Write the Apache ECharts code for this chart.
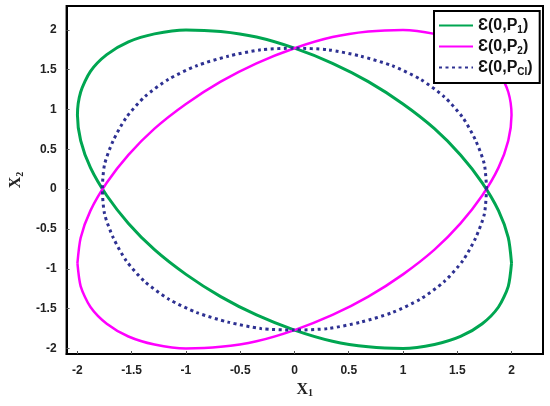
<!DOCTYPE html>
<html>
<head>
<meta charset="utf-8">
<script src="https://cdn.jsdelivr.net/npm/echarts@6/dist/echarts.min.js"></script>
<style>html,body{margin:0;padding:0;background:#fff;}#c{width:550px;height:406px;}</style>
</head>
<body>
<div id="c"></div>
<script>
// Series names (legend)
var seriesNames = ['P1', 'P2', 'PCI'];
var legendSubs = ['1', '2', 'CI'];
// Tick labels
var xTicks = [-2, -1.5, -1, -0.5, 0, 0.5, 1, 1.5, 2];
var yTicks = [-2, -1.5, -1, -0.5, 0, 0.5, 1, 1.5, 2];
// Ellipse E(0,P1) points (x1, x2)
var p1Points = [
  [2.00,-0.93],[1.97,-0.61],[1.88,-0.27],[1.73,0.08],[1.53,0.43],[1.29,0.76],[1.00,1.07],[0.68,1.35],[0.35,1.58],
  [0.00,1.77],[-0.35,1.91],[-0.68,1.98],[-1.00,2.00],[-1.29,1.95],[-1.53,1.85],[-1.73,1.69],[-1.88,1.48],[-1.97,1.22],
  [-2.00,0.93],[-1.97,0.61],[-1.88,0.27],[-1.73,-0.08],[-1.53,-0.43],[-1.29,-0.76],[-1.00,-1.07],[-0.68,-1.35],[-0.35,-1.58],
  [0.00,-1.77],[0.35,-1.91],[0.68,-1.98],[1.00,-2.00],[1.29,-1.95],[1.53,-1.85],[1.73,-1.69],[1.88,-1.48],[1.97,-1.22],
  [2.00,-0.93]
];
// Ellipse E(0,P2) points
var p2Points = [
  [-2.00,-0.93],[-1.97,-0.61],[-1.88,-0.27],[-1.73,0.08],[-1.53,0.43],[-1.29,0.76],[-1.00,1.07],[-0.68,1.35],[-0.35,1.58],
  [0.00,1.77],[0.35,1.91],[0.68,1.98],[1.00,2.00],[1.29,1.95],[1.53,1.85],[1.73,1.69],[1.88,1.48],[1.97,1.22],
  [2.00,0.93],[1.97,0.61],[1.88,0.27],[1.73,-0.08],[1.53,-0.43],[1.29,-0.76],[1.00,-1.07],[0.68,-1.35],[0.35,-1.58],
  [0.00,-1.77],[-0.35,-1.91],[-0.68,-1.98],[-1.00,-2.00],[-1.29,-1.95],[-1.53,-1.85],[-1.73,-1.69],[-1.88,-1.48],[-1.97,-1.22],
  [-2.00,-0.93]
];
// Ellipse E(0,PCI) points
var pciPoints = [
  [1.77,0.00],[1.75,0.31],[1.67,0.61],[1.55,0.90],[1.38,1.16],[1.16,1.38],[0.90,1.55],[0.61,1.67],[0.31,1.75],
  [0.00,1.77],[-0.31,1.75],[-0.61,1.67],[-0.90,1.55],[-1.16,1.38],[-1.38,1.16],[-1.55,0.90],[-1.67,0.61],[-1.75,0.31],
  [-1.77,0.00],[-1.75,-0.31],[-1.67,-0.61],[-1.55,-0.90],[-1.38,-1.16],[-1.16,-1.38],[-0.90,-1.55],[-0.61,-1.67],[-0.31,-1.75],
  [0.00,-1.77],[0.31,-1.75],[0.61,-1.67],[0.90,-1.55],[1.16,-1.38],[1.38,-1.16],[1.55,-0.90],[1.67,-0.61],[1.75,-0.31],
  [1.77,0.00]
];

var chart = echarts.init(document.getElementById('c'), null, {renderer: 'canvas'});
var labelStyle = {fontFamily: 'Arial, "Liberation Sans"', fontWeight: 'bold', fontSize: 12, color: '#222'};
var nameRich = {
  v: {fontFamily: '"Liberation Serif", "Times New Roman", serif', fontWeight: 'bold', fontSize: 16, color: '#222'},
  s: {fontFamily: '"Liberation Serif", "Times New Roman", serif', fontWeight: 'bold', fontSize: 10, color: '#222', verticalAlign: 'bottom', padding: [8, 0, 0, 0]}
};
var option = {
  backgroundColor: '#fff',
  animation: false,
  grid: {left: 52, top: 6, right: 7, bottom: 52, show: true, borderColor: '#000', borderWidth: 2, backgroundColor: 'transparent'},
  xAxis: {
    type: 'value', min: -2.1, max: 2.29,
    splitLine: {show: false},
    axisLine: {show: true, onZero: false, lineStyle: {color: '#000', width: 2}},
    axisTick: {show: true, inside: true, length: 3, customValues: xTicks, lineStyle: {color: '#555', width: 1}},
    axisLabel: Object.assign({customValues: xTicks, margin: 11}, labelStyle),
    name: '{v|X}{s|1}', nameLocation: 'middle', nameGap: 24,
    nameTextStyle: {rich: nameRich}
  },
  yAxis: {
    type: 'value', min: -2.07, max: 2.3,
    splitLine: {show: false},
    axisLine: {show: true, onZero: false, lineStyle: {color: '#000', width: 2}},
    axisTick: {show: true, inside: true, length: 3, customValues: yTicks, lineStyle: {color: '#555', width: 1}},
    axisLabel: Object.assign({customValues: yTicks, margin: 10}, labelStyle),
    name: '{v|X}{s|2}', nameLocation: 'middle', nameGap: 28,
    nameTextStyle: {rich: nameRich}
  },
  legend: {
    orient: 'vertical', left: 434, top: 11,
    data: seriesNames,
    backgroundColor: '#fff', borderColor: '#000', borderWidth: 2, borderRadius: 0,
    padding: [6, 7, 6, 4], itemWidth: 34, itemHeight: 12, itemGap: 3,
    itemStyle: {opacity: 0},
    formatter: function (name) {
      var i = seriesNames.indexOf(name);
      return '{a|\u0190(0,P}{s|' + legendSubs[i] + '}{a|)}';
    },
    textStyle: {
      rich: {
        a: {fontFamily: 'Arial, "Liberation Sans"', fontWeight: 'bold', fontSize: 16, color: '#111', lineHeight: 19},
        s: {fontFamily: 'Arial, "Liberation Sans"', fontWeight: 'bold', fontSize: 10, color: '#111', verticalAlign: 'bottom', lineHeight: 19, padding: [8, 0, 0, 0]}
      }
    }
  },
  series: [
    {name: 'P1', type: 'line', data: p1Points, showSymbol: false, symbol: 'none', smooth: 0.25,
      lineStyle: {color: '#00A651', width: 3}, itemStyle: {color: '#00A651'}},
    {name: 'P2', type: 'line', data: p2Points, showSymbol: false, symbol: 'none', smooth: 0.25,
      lineStyle: {color: '#FF00FF', width: 2.5}, itemStyle: {color: '#FF00FF'}},
    {name: 'PCI', type: 'line', data: pciPoints, showSymbol: false, symbol: 'none', smooth: 0.25,
      lineStyle: {color: '#2E3192', width: 3, type: [3, 3.5]}, itemStyle: {color: '#2E3192'}}
  ]
};
chart.setOption(option);
</script>
</body>
</html>
